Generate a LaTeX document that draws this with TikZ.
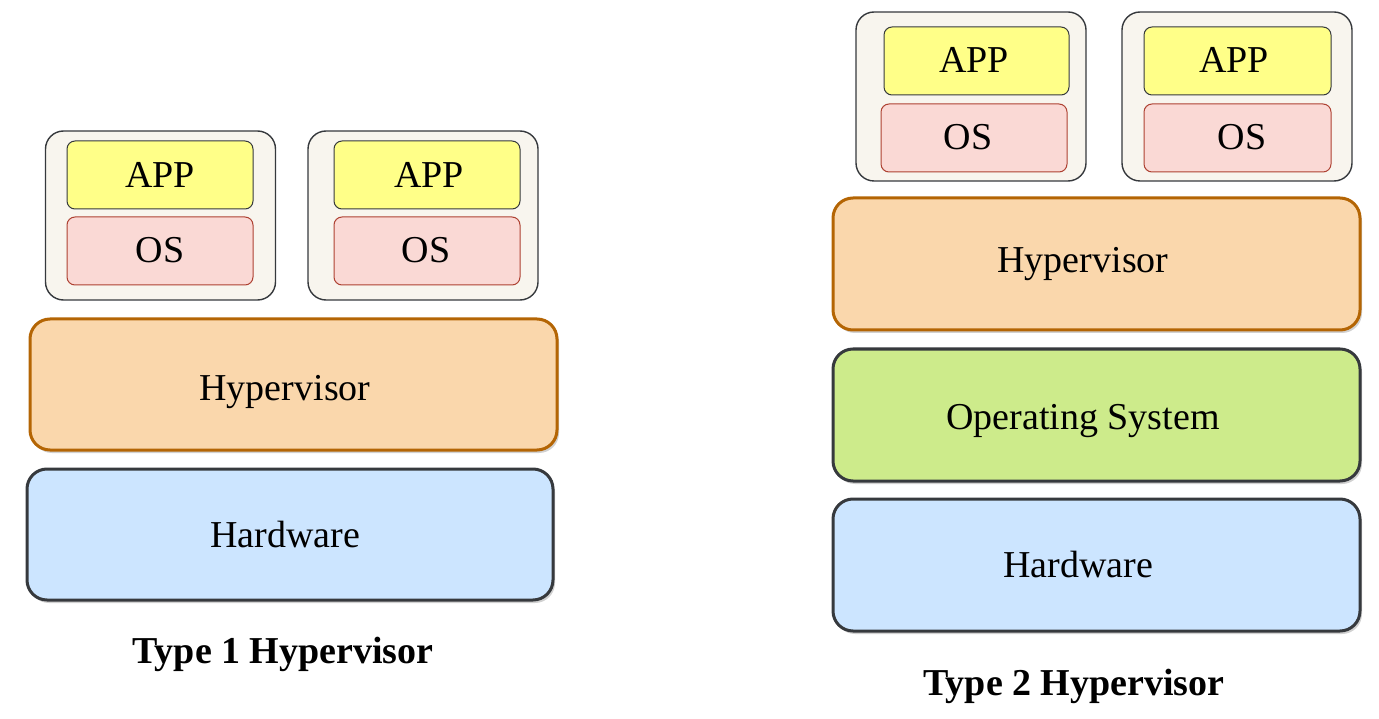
\documentclass[tikz,border=0pt]{standalone}
\usepackage{fontspec}
\setmainfont{Liberation Serif}
\usetikzlibrary{shadows}
\definecolor{vmfill}{HTML}{F8F5EE}
\definecolor{dark}{HTML}{36393D}
\definecolor{appfill}{HTML}{FFFF88}
\definecolor{osfill}{HTML}{FAD9D5}
\definecolor{osline}{HTML}{AE4132}
\definecolor{hypfill}{HTML}{FAD7AC}
\definecolor{hypline}{HTML}{B46504}
\definecolor{osgreen}{HTML}{CDEB8B}
\definecolor{hwfill}{HTML}{CCE5FF}
\tikzset{
  vmbox/.style={draw=dark, fill=vmfill, line width=1.4pt, rounded corners=18pt,
    minimum width=230pt, minimum height=169pt, inner sep=0pt},
  appbox/.style={draw=dark, fill=appfill, line width=1pt, rounded corners=8pt,
    minimum width=186pt, minimum height=68pt, inner sep=0pt},
  osbox/.style={draw=osline, fill=osfill, line width=1pt, rounded corners=8pt,
    minimum width=186pt, minimum height=68pt, inner sep=0pt},
  layer/.style={line width=3pt, rounded corners=20pt, minimum width=526pt,
    minimum height=131pt, inner sep=0pt,
    drop shadow={shadow xshift=2pt, shadow yshift=-3pt, opacity=0.18, fill=black}},
  hyplayer/.style={layer, draw=hypline, fill=hypfill},
  oslayer/.style={layer, draw=dark, fill=osgreen},
  hwlayer/.style={layer, draw=dark, fill=hwfill},
  lbl/.style={anchor=base, inner sep=0pt, font=\fontsize{38}{40}\selectfont},
  ttl/.style={anchor=base, inner sep=0pt, font=\fontsize{38}{40}\selectfont\bfseries}
}
\begin{document}
\begin{tikzpicture}[x=1pt,y=-1pt]
\useasboundingbox (0,0) rectangle (1379,719);
% ---------- Type 1 ----------
\node[vmbox] (vm1) at (160.5,215.5) {};
\node[appbox] (app1) at (160,175) {};
\node[osbox] (os1) at (160,251) {};
\node[lbl] (app1t) at (160,188) {APP};
\node[lbl] (os1t) at (160,263) {OS};
\node[vmbox] (vm2) at (423,215.5) {};
\node[appbox] (app2) at (427,175) {};
\node[osbox] (os2) at (427,251) {};
\node[lbl] (app2t) at (429,188) {APP};
\node[lbl] (os2t) at (426,263) {OS};
\node[hyplayer, minimum width=527pt] (hypL) at (293.5,384.5) {};
\node[lbl] (hypLt) at (285,400) {Hypervisor};
\node[hwlayer] (hwL) at (290,534.5) {};
\node[lbl] (hwLt) at (285,547) {Hardware};
\node[ttl] (t1) at (283,663) {Type 1 Hypervisor};
% ---------- Type 2 ----------
\node[vmbox] (vm3) at (971,96.5) {};
\node[appbox, minimum width=185pt] (app3) at (976.5,61) {};
\node[osbox] (os3) at (974,138) {};
\node[lbl] (app3t) at (974,73) {APP};
\node[lbl] (os3t) at (968,150) {OS};
\node[vmbox] (vm4) at (1237,96.5) {};
\node[appbox, minimum width=187pt] (app4) at (1237.5,61) {};
\node[osbox, minimum width=187pt] (os4) at (1237.5,138) {};
\node[lbl] (app4t) at (1234,73) {APP};
\node[lbl] (os4t) at (1242,150) {OS};
\node[hyplayer, minimum width=527pt, minimum height=132pt] (hypR) at (1096.5,264) {};
\node[lbl] (hypRt) at (1083,273) {Hypervisor};
\node[oslayer, minimum width=527pt, minimum height=132pt] (osR) at (1096.5,415) {};
\node[lbl] (osRt) at (1083,429) {Operating System};
\node[hwlayer, minimum width=527pt, minimum height=132pt] (hwR) at (1096.5,565) {};
\node[lbl] (hwRt) at (1078,577) {Hardware};
\node[ttl] (t2) at (1074,695) {Type 2 Hypervisor};
\end{tikzpicture}
\end{document}
